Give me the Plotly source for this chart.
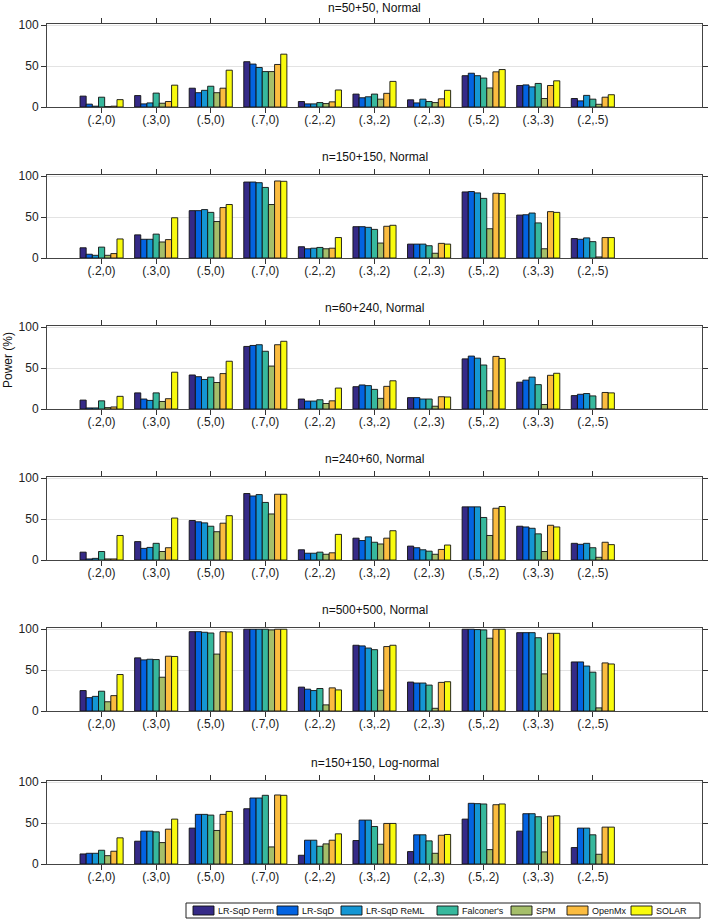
import plotly.graph_objects as go

categories = ["(.2,0)", "(.3,0)", "(.5,0)", "(.7,0)", "(.2,.2)", "(.3,.2)", "(.2,.3)", "(.5,.2)", "(.3,.3)", "(.2,.5)"]
methods = ["LR-SqD Perm", "LR-SqD", "LR-SqD ReML", "Falconer's", "SPM", "OpenMx", "SOLAR"]
colors = ["#352a87", "#0363e1", "#1496d4", "#37b89d", "#a5be6a", "#fbbc40", "#f9fb0e"]
titles = ["n=50+50, Normal", "n=150+150, Normal", "n=60+240, Normal",
          "n=240+60, Normal", "n=500+500, Normal", "n=150+150, Log-normal"]
y_ticks = [0, 50, 100]

# values per panel: one list per method, one value per category
n50_50 = {
    "LR-SqD Perm": [13.3, 14, 23, 55.4, 6.7, 15.8, 8.8, 38.3, 26.3, 10.4],
    "LR-SqD":      [3.5, 3.8, 17.5, 52.5, 3.8, 11.3, 5, 41.3, 27, 7.5],
    "LR-SqD ReML": [1, 5, 20.4, 48.3, 3.8, 12.5, 9.6, 38.3, 24.6, 14.2],
    "Falconer's":  [12, 17, 25.4, 43.3, 5.4, 15.8, 6.7, 35.4, 28.8, 9.6],
    "SPM":         [0.5, 4.6, 17.5, 43.3, 4.2, 9.6, 5.4, 23.3, 10.4, 3.3],
    "OpenMx":      [1, 6.7, 23, 52, 6.3, 16.7, 10, 43, 26.3, 12],
    "SOLAR":       [9, 26.7, 45, 64.6, 20.8, 31.3, 20.4, 45.8, 32, 15],
}
n150_150 = {
    "LR-SqD Perm": [12.5, 28.3, 57.9, 92.9, 13.8, 38.3, 17, 80.8, 52.5, 23.8],
    "LR-SqD":      [4.6, 22.9, 57.9, 92.9, 11.3, 38.3, 17, 81.3, 52.9, 22.9],
    "LR-SqD ReML": [3.3, 22.9, 59.2, 92.1, 12, 37.5, 17, 79.6, 55, 24.6],
    "Falconer's":  [13.3, 29.2, 55.8, 86.3, 12.9, 35, 15, 72.9, 42.9, 20],
    "SPM":         [3.3, 19.6, 44.6, 65.4, 11.3, 18.3, 5.8, 35.8, 11.3, 1.3],
    "OpenMx":      [5.4, 22.5, 61.7, 94.2, 12, 38.8, 17.9, 79.2, 56.7, 25],
    "SOLAR":       [23.3, 49.2, 65.4, 93.8, 25, 40, 17, 78.8, 55.8, 25],
}
n60_240 = {
    "LR-SqD Perm": [10.9, 19.7, 41.6, 76.5, 12.2, 27.3, 13.9, 61.3, 32.8, 16.4],
    "LR-SqD":      [1.3, 12.2, 39.5, 77.7, 9.7, 29.4, 13.9, 64.7, 35.3, 18],
    "LR-SqD ReML": [1.3, 10.5, 36.1, 78.6, 9.7, 28.6, 12.2, 62.2, 39, 18.9],
    "Falconer's":  [10, 19.7, 39, 70.6, 11.3, 24, 12.2, 53.8, 29.8, 16],
    "SPM":         [1.7, 9.2, 32.4, 52.5, 6.7, 13, 3.4, 22.3, 5.5, 0.4],
    "OpenMx":      [2.5, 12.6, 43.3, 78.6, 10, 27.7, 15, 64.3, 41.2, 20.2],
    "SOLAR":       [15.5, 45, 58.4, 82.8, 25.6, 34.5, 14.7, 61.8, 43.7, 19.7],
}
n240_60 = {
    "LR-SqD Perm": [9.6, 22.5, 48.3, 81.3, 12.5, 26.7, 17, 65, 41.3, 20.4],
    "LR-SqD":      [1.3, 14.2, 46.7, 78.3, 8.3, 23.8, 15, 65, 40.4, 19.2],
    "LR-SqD ReML": [2, 15.4, 45.4, 80, 8.3, 28.3, 12.5, 65, 38.8, 20.4],
    "Falconer's":  [10.4, 20.4, 41.3, 70.4, 9.6, 21.7, 10.8, 52, 32, 15],
    "SPM":         [1.3, 10.4, 34.6, 56.3, 7, 19.6, 7, 30, 10.4, 3.3],
    "OpenMx":      [1.3, 15, 45, 80.4, 8.8, 26.7, 12.9, 63.3, 42.5, 21.7],
    "SOLAR":       [30, 51.3, 54.2, 80.4, 31.3, 35.8, 18.3, 65.4, 40.4, 18.8],
}
n500_500 = {
    "LR-SqD Perm": [25, 65, 97, 100, 29.2, 80.4, 35.4, 100, 95.8, 60],
    "LR-SqD":      [16.3, 62.5, 97, 100, 26.7, 79.6, 34.2, 100, 95.8, 60],
    "LR-SqD ReML": [17.9, 63.3, 96.3, 100, 25, 77, 34.2, 99.6, 95.8, 55],
    "Falconer's":  [24.2, 62.9, 95.4, 100, 27.5, 75, 31.7, 99.2, 89.6, 47.5],
    "SPM":         [11.3, 41.3, 69.6, 99.2, 7.5, 25.4, 3.3, 89, 45.4, 3.8],
    "OpenMx":      [18.8, 67, 97, 100, 28.3, 78.8, 35, 100, 95, 58.8],
    "SOLAR":       [44.6, 66.7, 96.7, 100, 25.8, 80.4, 35.8, 100, 95, 57.5],
}
n150_150_log = {
    "LR-SqD Perm": [12.3, 27.9, 43.9, 67.6, 10.7, 28.7, 15.2, 54.9, 40.2, 20.1],
    "LR-SqD":      [13.1, 40.2, 60.7, 80.7, 29.1, 53.7, 35.7, 74.2, 61.5, 43.9],
    "LR-SqD ReML": [13.1, 40.2, 60.7, 80.7, 29.1, 53.7, 35.7, 73.8, 61.5, 43.9],
    "Falconer's":  [16.8, 39.3, 59.8, 84, 21.7, 45.9, 28.3, 73.4, 57.8, 35.7],
    "SPM":         [10.2, 26.2, 41, 20.9, 24.6, 24.2, 13.1, 17.6, 14.8, 11.9],
    "OpenMx":      [15.6, 42.6, 60.7, 84.4, 29.1, 49.6, 35.2, 72.5, 58.6, 45.1],
    "SOLAR":       [32, 54.9, 64.3, 84, 36.9, 49.6, 36.1, 73.4, 59, 45.1],
}
panels = [n50_50, n150_150, n60_240, n240_60, n500_500, n150_150_log]

W, H = 709, 922
L, R = 47, 7
PW = W - L - R
tops = [24, 175, 326, 477, 628, 781]
ph = 83
FONT = "Liberation Sans, Arial, Helvetica, sans-serif"

def px(x):
    return (x - L) / PW

def py(y):
    return 1 - y / H

fig = go.Figure()
xs = list(range(1, len(categories) + 1))
for p, data in enumerate(panels):
    sfx = "" if p == 0 else str(p + 1)
    for m, c in zip(methods, colors):
        fig.add_trace(go.Bar(
            x=xs, y=data[m], name=m, marker=dict(color=c, line=dict(color="#111", width=0.9)),
            xaxis="x" + sfx, yaxis="y" + sfx, showlegend=False, offsetgroup=m,
        ))
    top, bot = tops[p], tops[p] + ph
    fig.update_layout(**{
        "xaxis" + sfx: dict(domain=[0, 1], anchor="y" + sfx, range=[0, 12],
                            tickvals=xs, ticktext=categories, ticks="outside", ticklen=5,
                            tickcolor="#333", showline=True, linecolor="#444", linewidth=1,
                            mirror="ticks", showgrid=False, zeroline=False, automargin=False,
                            ticklabelstandoff=-3,
                            tickfont=dict(size=12, color="#222")),
        "yaxis" + sfx: dict(domain=[py(bot), py(top)], anchor="x" + sfx, range=[0, 101.5],
                            tickvals=y_ticks, ticks="outside", ticklen=5, tickcolor="#333",
                            showline=True, linecolor="#444", linewidth=1, mirror="ticks",
                            showgrid=True, gridcolor="#e3e3e3", gridwidth=1, zeroline=False,
                            automargin=False, tickfont=dict(size=12, color="#222")),
    })
    fig.add_annotation(text=titles[p], xref="paper", yref="paper", x=0.5,
                       y=py(max(top - 18, 8)), yanchor="middle", showarrow=False,
                       font=dict(size=12, color="#111"))

fig.add_annotation(text="Power (%)", xref="paper", yref="paper", x=px(8),
                   y=py(360), textangle=-90, showarrow=False, xanchor="center",
                   font=dict(size=12, color="#111"))

# legend (drawn as a boxed row of swatches and labels)
leg_left, leg_right, leg_top, leg_bot = 186, 700, 903, 918
swatch_x = [193, 277, 341, 437, 511, 567, 631]
fig.add_shape(type="rect", xref="paper", yref="paper", x0=px(leg_left), x1=px(leg_right),
              y0=py(leg_bot), y1=py(leg_top), line=dict(color="#222", width=1),
              fillcolor="white", layer="above")
for name, c, sx in zip(methods, colors, swatch_x):
    fig.add_shape(type="rect", xref="paper", yref="paper", x0=px(sx), x1=px(sx + 21),
                  y0=py(915), y1=py(906), line=dict(color="#111", width=0.9),
                  fillcolor=c, layer="above")
    fig.add_annotation(text=name, xref="paper", yref="paper", x=px(sx + 23),
                       y=py(910.5), xanchor="left", yanchor="middle", showarrow=False,
                       font=dict(size=9, color="#111"))

fig.update_layout(
    width=W, height=H, margin=dict(l=L, r=R, t=0, b=0, autoexpand=False),
    paper_bgcolor="white", plot_bgcolor="white", showlegend=False,
    font=dict(family=FONT, size=12, color="#222"),
    barmode="group", bargap=0.21, bargroupgap=0,
)
fig.write_html("out.html", config={"displayModeBar": False},
               post_script="document.body.style.margin='0px';")
